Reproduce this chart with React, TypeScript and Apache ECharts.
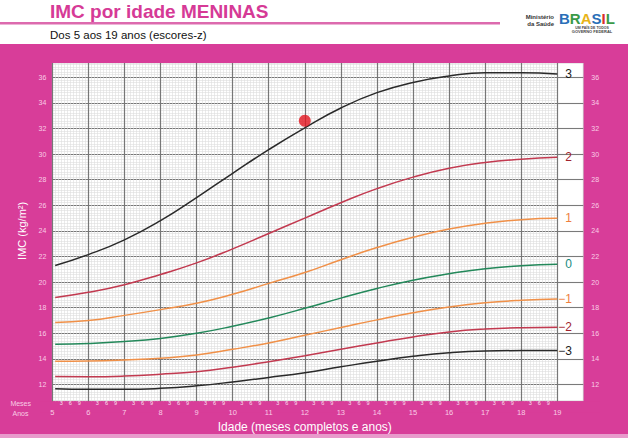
import React, { useEffect, useRef } from "react";
import * as echarts from "echarts";

// Age in years (5y1m .. 19y)
const ages = [5.08, 6, 7, 8, 9, 10, 11, 12, 13, 14, 15, 16, 17, 18, 19];
const zPlus3 = [21.3, 22.15, 23.3, 24.8, 26.6, 28.5, 30.35, 32.05, 33.6, 34.8, 35.6, 36.1, 36.35, 36.35, 36.25];
const zPlus2 = [18.8, 19.2, 19.8, 20.6, 21.5, 22.6, 23.8, 25.0, 26.2, 27.3, 28.2, 28.9, 29.35, 29.6, 29.75];
const zPlus1 = [16.85, 17.0, 17.4, 17.85, 18.35, 19.05, 19.9, 20.75, 21.75, 22.7, 23.5, 24.15, 24.6, 24.88, 24.98];
const zZero = [15.15, 15.2, 15.35, 15.6, 16.0, 16.55, 17.2, 17.95, 18.75, 19.5, 20.15, 20.65, 21.05, 21.28, 21.4];
const zMinus1 = [13.82, 13.84, 13.92, 14.05, 14.3, 14.75, 15.25, 15.85, 16.45, 17.05, 17.6, 18.05, 18.38, 18.58, 18.68];
const zMinus2 = [12.62, 12.61, 12.66, 12.8, 13.0, 13.35, 13.78, 14.25, 14.75, 15.25, 15.72, 16.1, 16.33, 16.44, 16.47];
const zMinus3 = [11.66, 11.62, 11.62, 11.7, 11.9, 12.2, 12.55, 12.92, 13.38, 13.82, 14.2, 14.48, 14.62, 14.65, 14.65];
const zLabels = ["3", "2", "1", "0", "\u22121", "\u22122", "\u22123"];
const yTickLabels = [12, 14, 16, 18, 20, 22, 24, 26, 28, 30, 32, 34, 36];
const childPoint = [12, 32.6];

const PINK = "#D83D99";
const LABEL_PINK = "#F9CDE6";
const FONT = "'Liberation Sans', Arial, sans-serif";

export default function App() {
  const ref = useRef<HTMLDivElement>(null);
  useEffect(() => {
    if (!ref.current) return;
    const chart = echarts.init(ref.current, null, { renderer: "svg" });
    const curves = [zPlus3, zPlus2, zPlus1, zZero, zMinus1, zMinus2, zMinus3];
    const lineColors = ["#2a2a2a", "#C23A50", "#F09048", "#23885A", "#F09048", "#C23A50", "#2a2a2a"];
    const labelColors = ["#1a1a1a", "#A2242E", "#EE7E3E", "#178A7E", "#EE7E3E", "#A2242E", "#1a1a1a"];
    const yFmt = (v: number) => (yTickLabels.includes(Math.round(v)) && Math.abs(v - Math.round(v)) < 1e-6 ? String(Math.round(v)) : "");

    const series: any[] = curves.map((c, i) => ({
      type: "line",
      xAxisIndex: 0,
      yAxisIndex: 0,
      data: ages.map((a, j) => [a, c[j]]),
      smooth: 0.5,
      showSymbol: false,
      symbol: "none",
      silent: true,
      z: 3,
      lineStyle: { color: lineColors[i], width: 1.5 },
      endLabel: {
        show: true,
        formatter: zLabels[i],
        color: labelColors[i],
        fontSize: 12,
        fontFamily: FONT,
        distance: i >= 4 ? 1 : 8,
      },
    }));
    series.push({
      type: "scatter",
      xAxisIndex: 0,
      yAxisIndex: 0,
      data: [childPoint],
      symbolSize: 12,
      z: 6,
      itemStyle: { color: "#E2141E" },
    });

    const option: any = {
      animation: false,
      backgroundColor: PINK,
      grid: [
        { left: 52.3, width: 505, top: 51.7, height: 358.4 },
        { left: 557.3, width: 26, top: 51.7, height: 358.4 },
        { left: 52.3, width: 505, top: 63, height: 338 },
      ],
      xAxis: [
        {
          gridIndex: 0, type: "value", min: 5, max: 19, interval: 1, position: "bottom",
          axisLine: { show: false }, axisTick: { show: false }, axisLabel: { show: false },
          splitLine: { show: true, lineStyle: { color: "#777777", width: 1.2 } },
          minorTick: { show: false, splitNumber: 12 },
          minorSplitLine: { show: true, lineStyle: { color: "#dddddd", width: 0.6 } },
        },
        { gridIndex: 1, type: "value", min: 0, max: 1, show: false },
        {
          gridIndex: 2, type: "value", min: 5, max: 19, interval: 1, z: 5, position: "bottom",
          axisLine: { show: false }, axisTick: { show: false }, splitLine: { show: false },
          axisLabel: { color: LABEL_PINK, fontSize: 7.5, margin: 10, fontFamily: FONT },
          name: "Idade (meses completos e anos)",
          nameLocation: "middle",
          nameGap: 20,
          nameTextStyle: { color: "#ffffff", fontSize: 12, fontFamily: FONT },
        },
        {
          gridIndex: 2, type: "value", min: 5, max: 19, interval: 0.25, z: 5, position: "bottom",
          axisLine: { show: false }, axisTick: { show: false }, splitLine: { show: false },
          axisLabel: {
            color: "#FBE0F0", fontSize: 5.5, margin: 1.5, fontFamily: FONT,
            formatter: (v: number) => {
              const m = Math.round((v - Math.floor(v)) * 12);
              return m === 0 ? "" : String(m);
            },
          },
        },
      ],
      yAxis: [
        {
          gridIndex: 0, type: "value", min: 10, max: 38, interval: 2,
          axisLine: { show: false }, axisTick: { show: false },
          axisLabel: { color: LABEL_PINK, fontSize: 7, margin: 6, fontFamily: FONT, formatter: yFmt },
          splitLine: { show: true, lineStyle: { color: "#777777", width: 1.1 } },
          minorTick: { show: false, splitNumber: 10 },
          minorSplitLine: { show: true, lineStyle: { color: "#dedede", width: 0.6 } },
          name: "IMC (kg/m\u00B2)",
          nameLocation: "middle",
          nameGap: 24,
          nameTextStyle: { color: "#ffffff", fontSize: 11, fontFamily: FONT },
        },
        {
          gridIndex: 1, type: "value", min: 10, max: 38, interval: 2, position: "right",
          axisLine: { show: false }, axisTick: { show: false },
          axisLabel: { color: LABEL_PINK, fontSize: 7, margin: 8, fontFamily: FONT, formatter: yFmt },
          splitLine: { show: true, lineStyle: { color: "#7a7a7a", width: 1.1 } },
        },
        { gridIndex: 2, type: "value", min: 0, max: 1, show: false },
      ],
      graphic: [
        // white header area
        { type: "rect", z: -2, shape: { x: 0, y: 0, width: 628, height: 44 }, style: { fill: "#ffffff" } },
        { type: "rect", z: -2, shape: { x: 0, y: 22, width: 500, height: 2.5 }, style: { fill: "#DC6AAE" } },
        // plot white background
        { type: "rect", z: -1, shape: { x: 52.3, y: 63, width: 531, height: 338 }, style: { fill: "#ffffff", stroke: "#b8b8b8", lineWidth: 0.6 } },
        // covers for grid overflow
        { type: "rect", z: 1, shape: { x: 40, y: 44, width: 560, height: 19 }, style: { fill: PINK } },
        { type: "rect", z: 1, shape: { x: 40, y: 401.3, width: 560, height: 11 }, style: { fill: PINK } },
        // bottom lighter stripe
        { type: "rect", z: 1, shape: { x: 0, y: 434, width: 628, height: 4 }, style: { fill: "#E89ACB" } },
        // titles
        { type: "text", z: 10, x: 50, y: 11, style: { text: "IMC por idade MENINAS", fill: "#D63A96", font: `bold 19px ${FONT}`, textVerticalAlign: "middle" } },
        { type: "text", z: 10, x: 50, y: 34.5, style: { text: "Dos 5 aos 19 anos (escores-z)", fill: "#111111", font: `11.5px ${FONT}`, textVerticalAlign: "middle" } },
        // bottom left captions
        { type: "text", z: 10, x: 31, y: 403.5, style: { text: "Meses", fill: LABEL_PINK, font: `7px ${FONT}`, textAlign: "right", textVerticalAlign: "middle" } },
        { type: "text", z: 10, x: 28.5, y: 413.5, style: { text: "Anos", fill: LABEL_PINK, font: `7px ${FONT}`, textAlign: "right", textVerticalAlign: "middle" } },
        // logo
        { type: "text", z: 10, x: 554, y: 17, style: { text: "Ministério", fill: "#333333", font: `bold 6px ${FONT}`, textAlign: "right", textVerticalAlign: "middle" } },
        { type: "text", z: 10, x: 554, y: 24, style: { text: "da Saúde", fill: "#333333", font: `bold 6px ${FONT}`, textAlign: "right", textVerticalAlign: "middle" } },
        {
          type: "text", z: 10, x: 559, y: 18, style: {
            text: "{b|B}{r|R}{a|A}{s|S}{i|I}{l|L}",
            textVerticalAlign: "middle",
            rich: {
              b: { fill: "#2A6FB8", font: `bold 15px ${FONT}` },
              r: { fill: "#3A9A48", font: `bold 15px ${FONT}` },
              a: { fill: "#E8B419", font: `bold 15px ${FONT}` },
              s: { fill: "#2A6FB8", font: `bold 15px ${FONT}` },
              i: { fill: "#D9302C", font: `bold 15px ${FONT}` },
              l: { fill: "#3A9A48", font: `bold 15px ${FONT}` },
            },
          },
        },
        { type: "text", z: 10, x: 592, y: 27.5, style: { text: "UM PAÍS DE TODOS", fill: "#444444", font: `bold 3.5px ${FONT}`, textAlign: "center", textVerticalAlign: "middle" } },
        { type: "text", z: 10, x: 592, y: 31.5, style: { text: "GOVERNO FEDERAL", fill: "#444444", font: `bold 4px ${FONT}`, textAlign: "center", textVerticalAlign: "middle" } },
      ],
      series,
    };
    chart.setOption(option);
    return () => chart.dispose();
  }, []);
  return <div ref={ref} style={{ position: "fixed", left: 0, top: 0, width: 628, height: 438 }} />;
}
